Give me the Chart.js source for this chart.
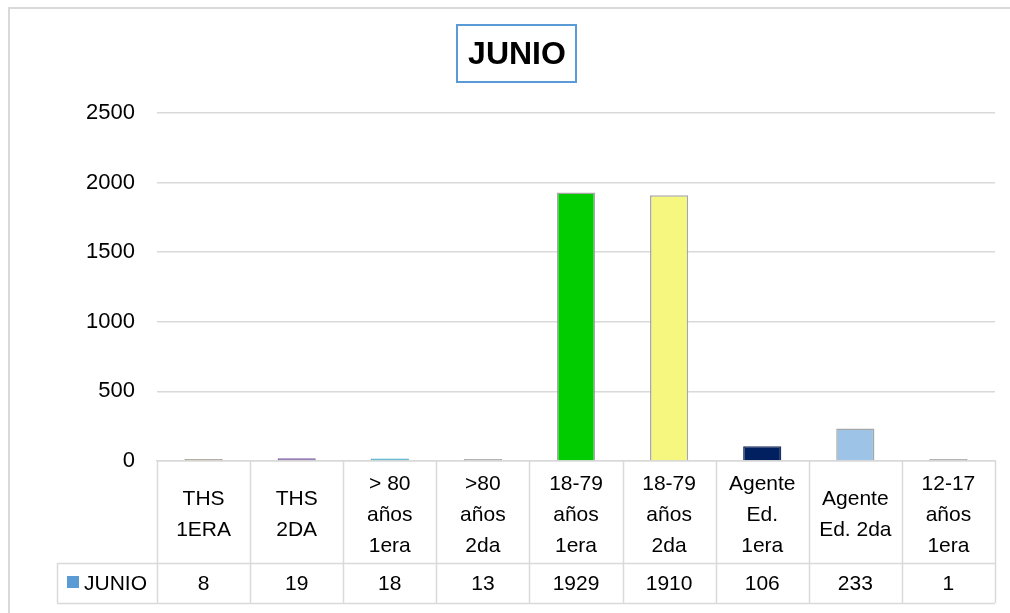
<!DOCTYPE html>
<html>
<head>
<meta charset="utf-8">
<script src="https://cdn.jsdelivr.net/npm/chart.js@4"></script>
<style>
  html, body { margin: 0; padding: 0; background: #fff; }
  #wrap { width: 1010px; height: 613px; position: relative; }
</style>
</head>
<body>
<div id="wrap"><canvas id="chart" width="1010" height="613"></canvas></div>
<script>
const titleText = 'JUNIO';
const seriesName = 'JUNIO';
const categories = [
  ['THS', '1ERA'],
  ['THS', '2DA'],
  ['> 80', 'años', '1era'],
  ['>80', 'años', '2da'],
  ['18-79', 'años', '1era'],
  ['18-79', 'años', '2da'],
  ['Agente', 'Ed.', '1era'],
  ['Agente', 'Ed. 2da'],
  ['12-17', 'años', '1era']
];
const values = [8, 19, 18, 13, 1929, 1910, 106, 233, 1];
const barColors = ['#a59d8f', '#8064a2', '#4bacc6', '#a5a5a5', '#00cc00', '#f5f77f', '#002060', '#9dc3e6', '#a5a5a5'];
const barBorders = ['#a59d8f', '#8064a2', '#4bacc6', '#a5a5a5', '#a6a6a6', '#a6a6a6', '#1f2f5f', '#a6a6a6', '#a5a5a5'];
const yTicks = [0, 500, 1000, 1500, 2000, 2500];

const FONT = '"Liberation Sans Narrow", "Liberation Sans", sans-serif';
const lineColor = '#d9d9d9';

const tablePlugin = {
  id: 'tablePlugin',
  afterDraw(chart) {
    const ctx = chart.ctx;
    const x = chart.scales.x;
    const area = chart.chartArea;
    const n = categories.length;
    const half = (x.getPixelForValue(1) - x.getPixelForValue(0)) / 2;
    const rowTop = area.bottom;
    const rowMid = area.bottom + 102;
    const rowBot = rowMid + 40;
    const legendLeft = 57;

    ctx.save();
    ctx.strokeStyle = lineColor;
    ctx.lineWidth = 1.5;
    // vertical column lines
    for (let i = 0; i <= n; i++) {
      const px = Math.round(x.getPixelForValue(i) - half) + 0.5;
      ctx.beginPath();
      ctx.moveTo(px, rowTop);
      ctx.lineTo(px, rowBot);
      ctx.stroke();
    }
    ctx.beginPath();
    ctx.moveTo(legendLeft + 0.5, rowMid);
    ctx.lineTo(legendLeft + 0.5, rowBot);
    ctx.stroke();
    // horizontal lines
    [rowMid, rowBot].forEach(py => {
      ctx.beginPath();
      ctx.moveTo(legendLeft, Math.round(py) + 0.5);
      ctx.lineTo(area.right, Math.round(py) + 0.5);
      ctx.stroke();
    });

    // legend key and values
    ctx.fillStyle = '#5b9bd5';
    ctx.fillRect(67, 576, 12, 12);
    ctx.fillStyle = '#000';
    ctx.font = '21px ' + FONT;
    ctx.textBaseline = 'middle';
    ctx.textAlign = 'left';
    ctx.fillText(seriesName, 84, (rowMid + rowBot) / 2 + 1);
    ctx.textAlign = 'center';
    values.forEach((v, i) => {
      ctx.fillText(String(v), x.getPixelForValue(i), (rowMid + rowBot) / 2 + 1);
    });

    // outer frame
    ctx.strokeStyle = '#d9d9d9';
    ctx.lineWidth = 2;
    ctx.beginPath();
    ctx.moveTo(9, 613);
    ctx.lineTo(9, 8);
    ctx.lineTo(1010, 8);
    ctx.stroke();

    // title box
    ctx.font = 'bold 32px "Liberation Sans", sans-serif';
    ctx.fillStyle = '#000';
    ctx.textAlign = 'center';
    ctx.textBaseline = 'middle';
    ctx.fillText(titleText, 517, 55);
    ctx.strokeStyle = '#5b9bd5';
    ctx.lineWidth = 2;
    ctx.strokeRect(457, 25, 119, 57);
    ctx.restore();
  }
};

new Chart(document.getElementById('chart'), {
  type: 'bar',
  data: {
    labels: categories,
    datasets: [{
      label: seriesName,
      data: values,
      backgroundColor: barColors,
      borderColor: barBorders,
      borderWidth: 1.5,
      minBarLength: 2,
      barPercentage: 0.41,
      categoryPercentage: 1
    }]
  },
  options: {
    responsive: false,
    animation: false,
    layout: { padding: { left: 0, right: 15, top: 113, bottom: 50 } },
    plugins: {
      legend: { display: false },
      title: { display: false },
      tooltip: { enabled: false }
    },
    scales: {
      x: {
        grid: { display: false },
        border: { color: lineColor, width: 1.5 },
        ticks: {
          color: '#000',
          font: { family: FONT, size: 21, lineHeight: 1.47 },
          padding: 15,
          crossAlign: 'center',
          maxRotation: 0,
          autoSkip: false
        },
        afterFit(scale) { scale.height = 102; }
      },
      y: {
        min: 0,
        max: 2500,
        afterBuildTicks(scale) { scale.ticks = yTicks.map(v => ({ value: v })); },
        grid: { color: lineColor, lineWidth: 1.5, drawTicks: false },
        border: { display: false },
        ticks: {
          color: '#000',
          font: { family: FONT, size: 22 },
          padding: 22,
          callback: v => String(v)
        },
        afterFit(scale) { scale.width = 157; }
      }
    }
  },
  plugins: [tablePlugin]
});
</script>
</body>
</html>
